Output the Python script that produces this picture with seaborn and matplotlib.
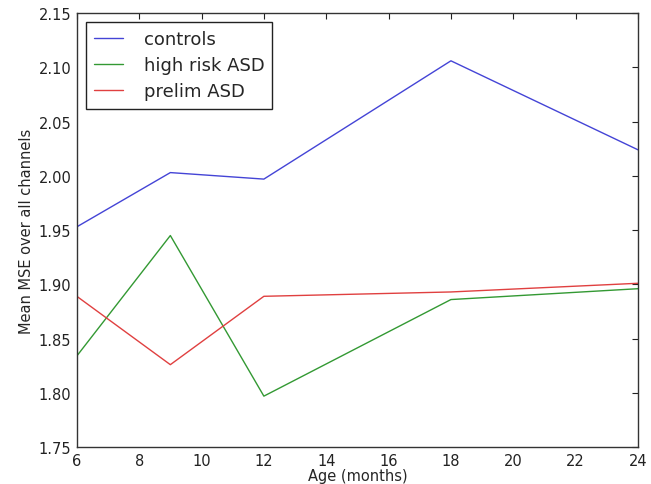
import matplotlib
matplotlib.use("Agg")
import matplotlib.pyplot as plt
import seaborn as sns
import pandas as pd

ages = [6, 9, 12, 18, 24]
controls = [1.953, 2.003, 1.997, 2.106, 2.024]
high_risk = [1.834, 1.945, 1.797, 1.886, 1.896]
prelim = [1.889, 1.826, 1.889, 1.893, 1.901]
groups = ["controls", "high risk ASD", "prelim ASD"]
colors = ["#4444d6", "#339933", "#e04040"]

df = pd.DataFrame({
    "age": ages * 3,
    "mse": controls + high_risk + prelim,
    "group": [g for g in groups for _ in ages],
})

sns.set_style("white")
plt.rcParams["font.family"] = ["DejaVu Sans"]

fig = plt.figure(figsize=(6.51, 4.85), dpi=100)
ax = fig.add_axes([0.118, 0.076, 0.862, 0.895])

sns.lineplot(data=df, x="age", y="mse", hue="group", palette=colors,
             linewidth=1.0, ax=ax, legend=True)

ax.set_xlim(6, 24)
ax.set_ylim(1.75, 2.15)
ax.set_xticks(range(6, 25, 2))
ax.set_yticks([1.75, 1.80, 1.85, 1.90, 1.95, 2.00, 2.05, 2.10, 2.15])
ax.set_yticklabels([f"{v:.2f}" for v in ax.get_yticks()])
ax.tick_params(direction="in", length=4, width=0.8, top=True, right=True,
               labelsize=10.5, colors="#222222", pad=4)
for s in ax.spines.values():
    s.set_color("#333333")
    s.set_linewidth(1.0)

ax.set_xlabel("Age (months)", fontsize=10.5, labelpad=0)
ax.set_ylabel("Mean MSE over all channels", fontsize=10.5, labelpad=3)

leg = ax.legend(title=None, loc="upper left", fontsize=13, frameon=True,
                fancybox=False, edgecolor="#222222", framealpha=1,
                borderpad=0.45, borderaxespad=0.5, handlelength=1.6,
                handletextpad=1.15, labelspacing=0.45)
leg.get_frame().set_linewidth(1.0)

fig.savefig("out.png", dpi=100)
